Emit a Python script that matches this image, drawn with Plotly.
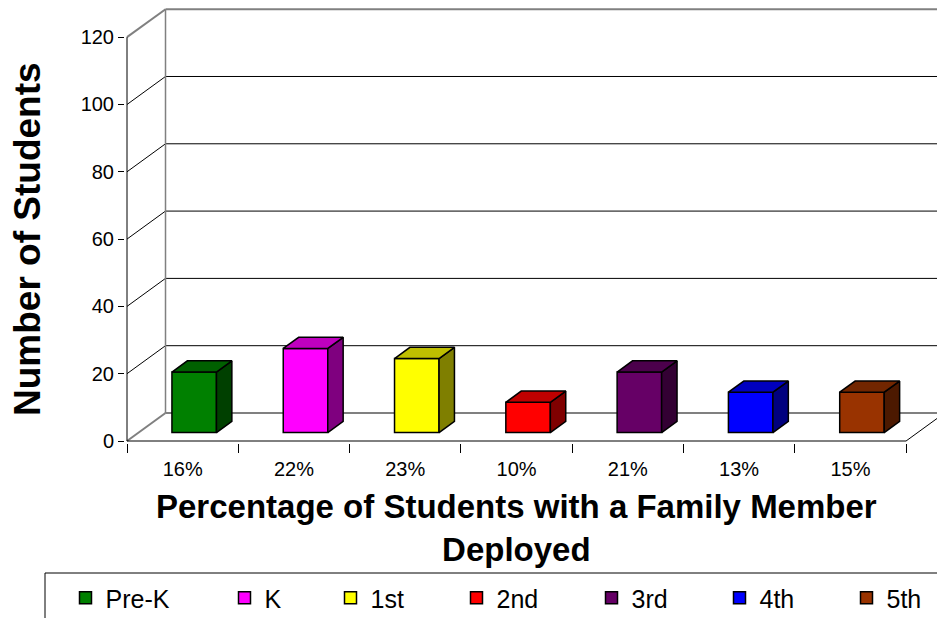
import plotly.graph_objects as go

# ---- data -------------------------------------------------------------
grades = ["Pre-K", "K", "1st", "2nd", "3rd", "4th", "5th"]
pct_labels = ["16%", "22%", "23%", "10%", "21%", "13%", "15%"]
students = [18, 25, 22, 9, 18, 12, 12]
y_ticks = [0, 20, 40, 60, 80, 100, 120]

front_colors = ["#008000", "#FF00FF", "#FFFF00", "#FF0000",
                "#660066", "#0000FF", "#993300"]

# ---- page geometry (pixels) -------------------------------------------
W, H = 937, 618
M_L, M_R, M_T, M_B = 125, 0, 0, 175
PLOT_W = W - M_L - M_R
PLOT_H = H - M_T - M_B

# 3-D look: full depth of the box expressed in axis units
DX = 0.346          # along the category axis
DY = 8.32           # along the value axis
D0, D1 = 0.3, 0.7   # front / back of each column within the depth
HALF_W = 0.2        # half column width (category units)

X_RANGE = [-0.518, 6.778]
Y_RANGE = [-0.594, 131.05]
FONT = "Liberation Sans, Arial, sans-serif"


def proj(x, y, d):
    """Oblique projection of a point at depth d (0 = front, 1 = back)."""
    return x + d * DX, y + d * DY


def shade(hex_color, f):
    h = hex_color.lstrip("#")
    r, g, b = (int(h[i:i + 2], 16) for i in (0, 2, 4))
    return "#%02x%02x%02x" % (int(r * f), int(g * f), int(b * f))


def px_x(px):
    return (px - M_L) / PLOT_W


def px_y(py):
    return (H - M_B - py) / PLOT_H


fig = go.Figure()

# ---- walls, floor and gridlines ---------------------------------------
x_lo, x_hi = -0.5, len(grades) - 0.5
y_top = y_ticks[-1]
GRAY = "#808080"


def seg(p, q, color, width):
    fig.add_shape(type="line", xref="x", yref="y",
                  x0=p[0], y0=p[1], x1=q[0], y1=q[1],
                  line=dict(color=color, width=width), layer="below")


for t in y_ticks[1:]:
    col, wd = (GRAY, 2) if t == y_top else ("black", 1)
    seg(proj(x_lo, t, 0), proj(x_lo, t, 1), col, wd)
    seg(proj(x_lo, t, 1), proj(x_hi, t, 1), col, wd)

seg(proj(x_lo, 0, 1), proj(x_lo, y_top, 1), GRAY, 1.5)   # back-left edge
seg(proj(x_lo, 0, 0), proj(x_lo, 0, 1), GRAY, 2)         # floor left edge
seg(proj(x_lo, 0, 1), proj(x_hi, 0, 1), GRAY, 2)         # floor back edge
seg(proj(x_hi, 0, 0), proj(x_hi, 0, 1), "black", 1)      # floor right edge
seg(proj(x_lo, 0, 0), proj(x_hi, 0, 0), "black", 1)      # category axis
seg(proj(x_lo, 0, 0), proj(x_lo, y_top, 0), "black", 1)  # value axis

# ---- columns ------------------------------------------------------------
legend_px = [87.5, 246.5, 352.5, 478.5, 613.5, 741.5, 868.5]
OUTLINE = dict(color="black", width=1.5)

for i, (g, v, c) in enumerate(zip(grades, students, front_colors)):
    lg = "legend" if i == 0 else f"legend{i + 1}"
    base = D0 * DY
    # front face
    fig.add_trace(go.Bar(
        x=[i], y=[v], base=base, width=2 * HALF_W,
        offset=-HALF_W + D0 * DX,
        marker=dict(color=c, line=OUTLINE),
        name=g, legend=lg,
        hovertemplate=f"{g}<br>{pct_labels[i]}<br>%{{y}} students<extra></extra>",
    ))
    # right side face
    side = [proj(i + HALF_W, 0, D0), proj(i + HALF_W, 0, D1),
            proj(i + HALF_W, v, D1), proj(i + HALF_W, v, D0),
            proj(i + HALF_W, 0, D0)]
    fig.add_trace(go.Scatter(
        x=[p[0] for p in side], y=[p[1] for p in side],
        mode="lines", fill="toself", fillcolor=shade(c, 0.5),
        line=OUTLINE, showlegend=False, hoverinfo="skip"))
    # top face
    top = [proj(i - HALF_W, v, D0), proj(i + HALF_W, v, D0),
           proj(i + HALF_W, v, D1), proj(i - HALF_W, v, D1),
           proj(i - HALF_W, v, D0)]
    fig.add_trace(go.Scatter(
        x=[p[0] for p in top], y=[p[1] for p in top],
        mode="lines", fill="toself", fillcolor=shade(c, 0.75),
        line=OUTLINE, showlegend=False, hoverinfo="skip"))

# ---- legends (one per grade so each entry sits at its own spot) ---------
legends = {}
for i, px in enumerate(legend_px):
    key = "legend" if i == 0 else f"legend{i + 1}"
    legends[key] = dict(
        xref="container", yref="container",
        x=(px - 22) / W, y=1 - 598 / H,
        xanchor="left", yanchor="middle",
        orientation="h", bgcolor="rgba(0,0,0,0)", borderwidth=0,
        font=dict(family=FONT, size=25, color="black"),
    )

# legend frame
fig.add_shape(type="rect", xref="paper", yref="paper",
              x0=px_x(45), x1=px_x(W + 10), y0=px_y(573), y1=px_y(H + 10),
              line=dict(color="black", width=1), fillcolor="rgba(0,0,0,0)")

# ---- titles ----------------------------------------------------------------
fig.add_annotation(
    text="Number of Students", xref="paper", yref="paper",
    x=px_x(28), y=px_y(239), textangle=-90, showarrow=False,
    xanchor="center", yanchor="middle",
    font=dict(family=FONT, size=37, color="black", weight="bold"))
fig.add_annotation(
    text="Percentage of Students with a Family Member<br>Deployed",
    xref="paper", yref="paper", x=px_x(516), y=px_y(486),
    showarrow=False, xanchor="center", yanchor="top",
    font=dict(family=FONT, size=33, color="black", weight="bold"))

fig.update_layout(
    width=W, height=H, autosize=False,
    margin=dict(l=M_L, r=M_R, t=M_T, b=M_B, pad=0),
    paper_bgcolor="white", plot_bgcolor="white",
    barmode="overlay", showlegend=True,
    font=dict(family=FONT, color="black"),
    xaxis=dict(
        range=X_RANGE, showgrid=False, zeroline=False, showline=False,
        tickmode="array", tickvals=list(range(len(grades))), ticktext=pct_labels,
        ticks="outside", ticklen=8, tickcolor="rgba(0,0,0,0)",
        tickfont=dict(family=FONT, size=20, color="black"),
        minor=dict(tickmode="array",
                   tickvals=[k - 0.5 for k in range(len(grades) + 1)],
                   ticks="outside", ticklen=9, tickwidth=1,
                   tickcolor="black", showgrid=False),
        fixedrange=True,
    ),
    yaxis=dict(
        range=Y_RANGE, showgrid=False, zeroline=False, showline=False,
        tickmode="array", tickvals=y_ticks,
        ticks="outside", ticklen=6, tickwidth=1, tickcolor="black",
        tickfont=dict(family=FONT, size=20, color="black"),
        fixedrange=True,
    ),
    **legends,
)

fig.write_html("out.html")
